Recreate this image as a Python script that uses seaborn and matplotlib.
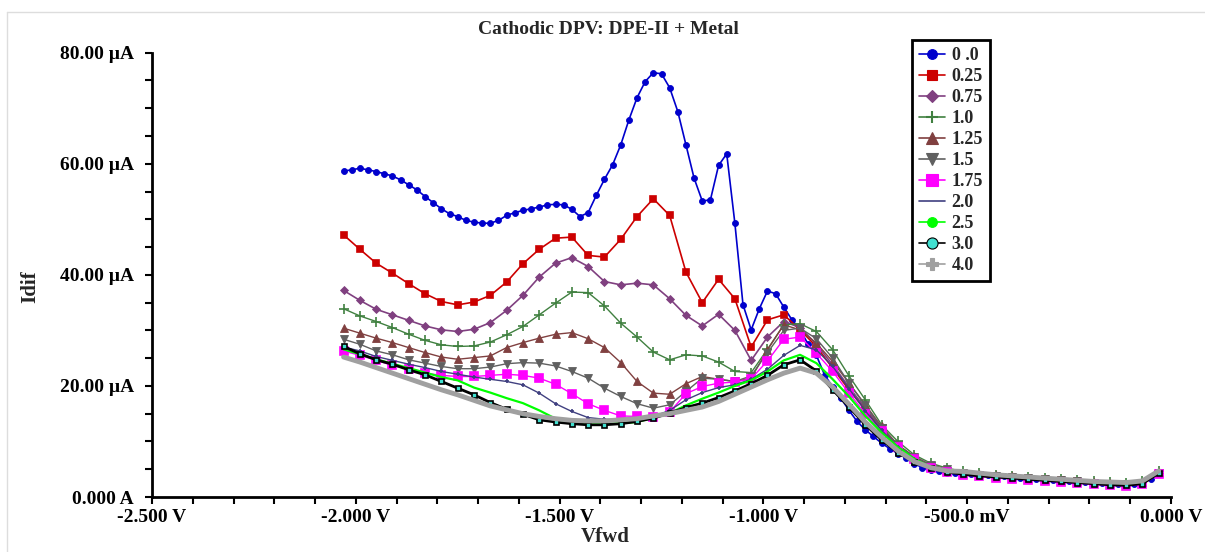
import numpy as np
import pandas as pd
import matplotlib
matplotlib.use("Agg")
import matplotlib.pyplot as plt
import seaborn as sns
from matplotlib.lines import Line2D
from matplotlib.ticker import MultipleLocator

# ---------------- data ----------------
V_COARSE = np.round(np.linspace(-2.03, -0.03, 51), 2)   # potential grid, V
V_FINE = np.round(np.linspace(-2.03, -0.03, 101), 2)    # grid of the 0.0 series

conc_labels = ["0 .0", "0.25", "0.75", "1.0", "1.25", "1.5", "1.75", "2.0", "2.5", "3.0", "4.0"]

i_00 = [58.7, 58.9, 59.2, 58.9, 58.6, 58.2, 57.8, 57.1, 56.2, 55.3,
        54.1, 53.0, 51.9, 51.0, 50.5, 49.8, 49.5, 49.3, 49.3, 49.8,
        50.7, 51.2, 51.6, 51.9, 52.2, 52.6, 52.7, 52.6, 51.8, 50.5,
        51.2, 54.3, 57.2, 59.8, 63.4, 67.9, 71.9, 74.8, 76.4, 76.2,
        73.7, 69.4, 63.4, 57.4, 53.3, 53.5, 59.7, 61.8, 49.3, 34.6,
        30.1, 33.9, 37.1, 36.6, 34.2, 31.9, 30.1, 27.5, 25.5, 22.0,
        19.8, 17.8, 15.6, 13.6, 12.1, 10.9, 9.7, 8.7, 7.8, 7.0,
        6.0, 5.3, 4.9, 4.6, 4.4, 4.3, 4.2, 4.1, 4.0, 3.9,
        3.8, 3.7, 3.6, 3.5, 3.4, 3.3, 3.2, 3.1, 3.0, 2.9,
        2.8, 2.7, 2.6, 2.5, 2.4, 2.4, 2.3, 2.3, 2.6, 3.3, 4.4]

i_025 = [47.2, 44.6, 42.1, 40.3, 38.4, 36.6, 35.2, 34.6, 35.1, 36.3,
         38.7, 42.0, 44.6, 46.6, 46.8, 43.5, 43.2, 46.4, 50.5, 53.7,
         50.7, 40.5, 35.0, 39.2, 35.7, 27.0, 31.9, 32.8, 30.1, 27.1,
         23.2, 19.3, 15.7, 12.1, 9.1, 7.0, 5.6, 4.9, 4.3, 4.0,
         3.8, 3.6, 3.4, 3.2, 3.0, 2.8, 2.6, 2.4, 2.3, 2.6, 4.4]

i_075 = [37.2, 35.4, 33.8, 32.8, 31.8, 30.8, 30.1, 29.8, 30.2, 31.4,
         33.6, 36.3, 39.6, 42.1, 43.1, 41.5, 38.8, 38.2, 38.5, 38.2,
         35.7, 32.7, 30.8, 32.9, 30.0, 24.6, 28.8, 31.6, 30.5, 27.5,
         23.8, 19.8, 16.0, 12.4, 9.3, 7.1, 5.6, 4.9, 4.3, 4.0,
         3.8, 3.6, 3.4, 3.2, 3.0, 2.8, 2.6, 2.4, 2.3, 2.6, 4.4]

i_10 = [33.9, 32.6, 31.6, 30.5, 29.3, 28.2, 27.4, 27.1, 27.2, 27.9,
        29.2, 30.7, 32.8, 34.9, 36.9, 36.8, 34.4, 31.3, 28.8, 26.1,
        24.7, 25.6, 25.4, 24.3, 22.6, 22.4, 26.6, 31.0, 31.2, 29.8,
        26.5, 21.8, 17.5, 13.0, 10.0, 7.6, 6.1, 5.2, 4.6, 4.3,
        4.0, 3.8, 3.6, 3.4, 3.2, 3.0, 2.8, 2.7, 2.6, 2.9, 4.7]

i_125 = [30.4, 29.5, 28.6, 27.8, 26.9, 26.0, 25.2, 24.8, 25.1, 25.4,
         26.9, 27.8, 28.6, 29.3, 29.6, 28.5, 26.9, 24.2, 20.8, 18.7,
         18.5, 20.4, 21.7, 21.2, 20.8, 21.4, 26.5, 31.0, 30.1, 27.7,
         24.4, 20.5, 16.6, 12.7, 9.4, 7.3, 5.8, 5.0, 4.4, 4.1,
         3.9, 3.7, 3.5, 3.3, 3.1, 2.9, 2.7, 2.5, 2.4, 2.7, 4.5]

i_15 = [28.4, 27.5, 26.3, 25.6, 24.7, 24.1, 23.5, 23.1, 23.1, 23.4,
        24.0, 24.2, 24.1, 23.6, 22.6, 21.4, 19.6, 18.1, 16.8, 16.0,
        16.6, 19.0, 21.4, 21.2, 20.8, 21.8, 26.0, 30.0, 30.4, 28.5,
        25.0, 20.5, 16.5, 12.5, 9.3, 7.2, 5.8, 5.0, 4.3, 4.0,
        3.8, 3.6, 3.4, 3.2, 3.0, 2.8, 2.6, 2.4, 2.3, 2.6, 4.4]

i_175 = [26.3, 25.5, 24.6, 23.7, 23.0, 22.3, 21.9, 21.7, 21.7, 21.9,
         22.1, 21.9, 21.4, 20.3, 18.6, 16.8, 15.6, 14.6, 14.5, 14.4,
         15.3, 18.6, 19.9, 20.5, 20.7, 21.3, 24.5, 28.4, 28.8, 25.9,
         22.6, 18.7, 15.0, 11.8, 9.0, 6.8, 5.3, 4.5, 4.0, 3.7,
         3.5, 3.3, 3.1, 2.9, 2.7, 2.5, 2.3, 2.1, 2.0, 2.3, 4.2]

i_20 = [27.0, 26.3, 25.3, 24.6, 23.9, 23.3, 22.6, 22.1, 21.6, 21.2,
        20.8, 20.2, 18.7, 16.8, 15.4, 14.3, 14.0, 13.9, 14.0, 14.5,
        15.6, 17.5, 18.8, 19.7, 20.2, 21.2, 23.0, 25.5, 27.3, 26.5,
        23.5, 19.5, 15.5, 12.0, 9.0, 6.9, 5.4, 4.6, 4.2, 3.9,
        3.7, 3.5, 3.3, 3.1, 2.9, 2.7, 2.5, 2.3, 2.2, 2.5, 4.3]

i_25 = [26.6, 25.7, 24.8, 24.0, 23.2, 22.4, 21.6, 21.0, 19.7, 18.8,
        17.8, 16.9, 15.6, 14.1, 13.3, 13.1, 13.1, 13.3, 13.5, 14.3,
        15.1, 16.5, 17.7, 18.8, 20.0, 21.0, 22.6, 24.6, 25.6, 24.1,
        21.2, 18.1, 14.6, 11.6, 9.0, 6.9, 5.4, 4.6, 4.2, 3.9,
        3.7, 3.5, 3.3, 3.1, 2.9, 2.7, 2.5, 2.3, 2.2, 2.5, 4.3]

i_30 = [27.1, 25.8, 24.7, 23.9, 22.9, 22.0, 20.8, 19.6, 18.4, 17.0,
        15.8, 14.9, 13.9, 13.5, 13.2, 13.0, 13.0, 13.2, 13.6, 14.2,
        15.1, 16.1, 16.9, 17.9, 19.1, 20.4, 21.9, 23.8, 24.7, 22.7,
        19.3, 16.2, 13.0, 10.3, 8.0, 6.3, 5.2, 4.5, 4.1, 3.8,
        3.6, 3.4, 3.2, 3.0, 2.8, 2.6, 2.4, 2.2, 2.1, 2.4, 4.3]

i_40 = [25.2, 24.3, 23.3, 22.3, 21.3, 20.3, 19.3, 18.4, 17.4, 16.4,
        15.7, 15.0, 14.5, 14.1, 13.8, 13.7, 13.7, 13.9, 14.1, 14.6,
        15.0, 15.6, 16.2, 17.2, 18.5, 19.8, 21.1, 22.3, 23.2, 22.3,
        19.8, 16.7, 13.5, 10.8, 8.3, 6.4, 5.3, 4.7, 4.6, 4.3,
        4.0, 3.8, 3.6, 3.4, 3.2, 3.0, 2.8, 2.7, 2.6, 2.9, 4.7]

x_tick_vals = [-2.5, -2.0, -1.5, -1.0, -0.5, 0.0]
x_tick_labels = ["-2.500 V", "-2.000 V", "-1.500 V", "-1.000 V", "-500.0 mV", "0.000 V"]
y_tick_vals = [0, 20, 40, 60, 80]
y_tick_labels = ["0.000 A", "20.00 \u00b5A", "40.00 \u00b5A", "60.00 \u00b5A", "80.00 \u00b5A"]

# ---------------- styles ----------------
styles = [
    dict(color="#0000CC", marker="o", ms=4.3, lw=1.2, mfc="#0000CC", mec="#0000CC"),
    dict(color="#CC0000", marker="s", ms=4.3, lw=1.2, mfc="#CC0000", mec="#CC0000"),
    dict(color="#804080", marker="D", ms=4.0, lw=1.2, mfc="#804080", mec="#804080"),
    dict(color="#408040", marker="+", ms=6.5, lw=1.0, mfc="#408040", mec="#408040"),
    dict(color="#804040", marker="^", ms=5.5, lw=1.0, mfc="#804040", mec="#804040"),
    dict(color="#606060", marker="v", ms=5.5, lw=1.0, mfc="#606060", mec="#606060"),
    dict(color="#FF00FF", marker="s", ms=5.5, lw=1.0, mfc="#FF00FF", mec="#FF00FF"),
    dict(color="#404080", marker="+", ms=2.5, lw=1.0, mfc="#404080", mec="#404080"),
    dict(color="#00FF00", marker=None, ms=0, lw=1.6, mfc="#00FF00", mec="#00FF00"),
    dict(color="#000000", marker="s", ms=3.6, lw=2.0, mfc="#40E0D0", mec="#000000"),
    dict(color="#A0A0A0", marker=None, ms=0, lw=3.5, mfc="#A0A0A0", mec="#A0A0A0"),
]
legend_markers = ["o", "s", "D", "+", "^", "v", "s", None, "o", "o", "P"]
legend_ms = [7, 7, 6, 9, 8, 8, 9, 0, 7, 8, 9]

series = [i_00, i_025, i_075, i_10, i_125, i_15, i_175, i_20, i_25, i_30, i_40]

# ---------------- figure ----------------
sns.set_theme(style="white")
plt.rcParams['font.family'] = ['Liberation Serif', 'DejaVu Serif']
plt.rcParams['font.weight'] = 'bold'

W, H = 1205, 552
fig = plt.figure(figsize=(W / 100, H / 100), dpi=100)
ax = fig.add_axes([152 / W, 1 - 497 / H, (1171 - 152) / W, (497 - 52.7) / H])

for lab, vals, st in zip(conc_labels, series, styles):
    xs = V_FINE if len(vals) == len(V_FINE) else V_COARSE
    df = pd.DataFrame({"V": xs, "I": vals})
    kw = dict(color=st["color"], linewidth=st["lw"], estimator=None, sort=False,
              legend=False, ax=ax)
    if st["marker"]:
        kw.update(marker=st["marker"], markersize=st["ms"], markerfacecolor=st["mfc"],
                  markeredgecolor=st["mec"],
                  markeredgewidth=1.2 if st["marker"] in ("+", "s") else 0.6)
    sns.lineplot(data=df, x="V", y="I", **kw)

ax.set_xlim(-2.5, 0.0)
ax.set_ylim(0, 80)
ax.set_xticks(x_tick_vals)
ax.set_xticklabels(x_tick_labels)
ax.set_yticks(y_tick_vals)
ax.set_yticklabels(y_tick_labels)
ax.xaxis.set_minor_locator(MultipleLocator(0.1))
ax.yaxis.set_minor_locator(MultipleLocator(5))
ax.tick_params(axis="both", which="both", direction="out", length=5, width=1.5,
               color="black", bottom=True, left=True)
ax.tick_params(axis="x", which="major", labelsize=14, pad=4)
ax.tick_params(axis="y", which="major", labelsize=14, pad=8)
for t in ax.get_xticklabels() + ax.get_yticklabels():
    t.set_fontweight("bold")
    t.set_color("black")
for s in ["top", "right"]:
    ax.spines[s].set_visible(False)
for s in ["left", "bottom"]:
    ax.spines[s].set_color("black")
    ax.spines[s].set_linewidth(2)
ax.set_xlabel("")
ax.set_ylabel("")
ax.grid(False)

# legend
handles = []
for lab, st, lm, lms in zip(conc_labels, styles, legend_markers, legend_ms):
    h = Line2D([0], [0], color=st["color"], lw=1.2, marker=lm if lm else None,
               markersize=lms, markerfacecolor=st["mfc"], markeredgecolor=st["mec"],
               markeredgewidth=1.5 if lm == "+" else 0.8)
    handles.append(h)
leg = ax.legend(handles=handles, labels=conc_labels, loc="upper left",
                bbox_to_anchor=((912 - 152) / 1019, (497 - 40) / 444.3),
                borderaxespad=0, frameon=True, fancybox=False, framealpha=1,
                edgecolor="black", labelspacing=0.22,
                handlelength=1.4, handletextpad=0.4, borderpad=0.4,
                prop=dict(family=['Liberation Serif'], weight="bold", size=13))
leg.get_frame().set_linewidth(2)

fig.text(608 / W, 1 - 30 / H, "Cathodic DPV: DPE-II + Metal", ha="center", va="center",
         fontsize=14, fontweight="bold")
fig.text(605 / W, 1 - 537 / H, "Vfwd", ha="center", va="center", fontsize=15,
         fontweight="bold")
fig.text(30 / W, 1 - 287 / H, "Idif", ha="center", va="center", rotation=90,
         fontsize=15, fontweight="bold")

# faint frame of the original screenshot
fig.add_artist(Line2D([7 / W, 1], [1 - 12 / H, 1 - 12 / H], color="#DDDDDD", lw=1))
fig.add_artist(Line2D([7 / W, 7 / W], [0, 1 - 12 / H], color="#DDDDDD", lw=1))

fig.savefig("out.png", dpi=100)
